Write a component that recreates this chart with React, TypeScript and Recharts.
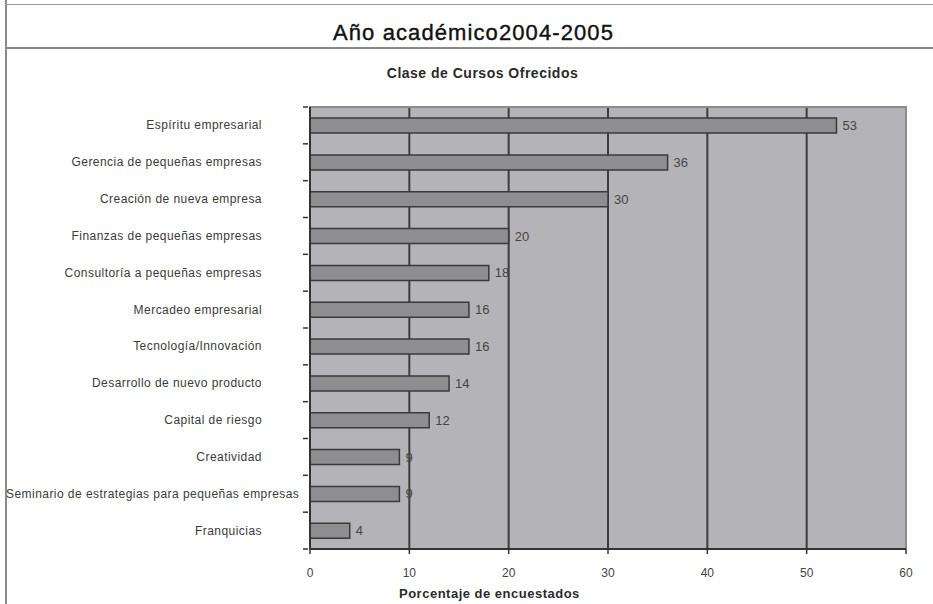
import React from 'react';
import {
  BarChart,
  Bar,
  XAxis,
  YAxis,
  CartesianGrid,
  LabelList,
  ReferenceArea,
  ReferenceLine,
} from 'recharts';

const courses = [
  'Espíritu empresarial',
  'Gerencia de pequeñas empresas',
  'Creación de nueva empresa',
  'Finanzas de pequeñas empresas',
  'Consultoría a pequeñas empresas',
  'Mercadeo empresarial',
  'Tecnología/Innovación',
  'Desarrollo de nuevo producto',
  'Capital de riesgo',
  'Creatividad',
  'Seminario de estrategias para pequeñas empresas',
  'Franquicias',
];

const percents = [53, 36, 30, 20, 18, 16, 16, 14, 12, 9, 9, 4];

const xTicks = [0, 10, 20, 30, 40, 50, 60];

const data = courses.map((name, i) => ({ name, value: percents[i] }));

const FONT = '"Liberation Sans", Arial, sans-serif';
const W = 933;
const H = 604;
const PLOT_TOP = 107;
const PLOT_BOTTOM = 549;
const BAND = (PLOT_BOTTOM - PLOT_TOP) / courses.length;

function CourseTick(props: any) {
  const { x, y, payload, index } = props;
  const label = String(payload.value);
  const long = label.length > 35;
  const top = y - BAND / 2;
  return (
    <g>
      <line x1={x + 1} x2={x + 6} y1={top} y2={top} stroke="#333" strokeWidth={1.5} />
      {index === courses.length - 1 && (
        <line x1={x + 1} x2={x + 6} y1={top + BAND} y2={top + BAND} stroke="#333" strokeWidth={1.5} />
      )}
      <text
        x={long ? 6 : 262}
        y={y}
        dy={4}
        textAnchor={long ? 'start' : 'end'}
        fontFamily={FONT}
        fontSize={12}
        letterSpacing={0.45}
        fill="#3a3a3a"
      >
        {label}
      </text>
    </g>
  );
}

export default function App() {
  return (
    <div
      style={{
        position: 'absolute',
        left: 0,
        top: 0,
        width: W,
        height: H,
        background: '#fff',
        overflow: 'hidden',
        fontFamily: FONT,
      }}
    >
      {/* frame */}
      <div style={{ position: 'absolute', left: 5, top: 0, width: 2, height: H, background: '#8a8a8a' }} />
      <div style={{ position: 'absolute', left: 5, top: 4, width: W - 5, height: 1, background: '#9a9a9a' }} />
      <div style={{ position: 'absolute', left: 5, top: 47, width: W - 5, height: 2, background: '#8a8a8a' }} />

      <div
        style={{
          position: 'absolute',
          left: 0,
          width: W,
          top: 19,
          textAlign: 'center',
          paddingLeft: 7,
          fontSize: 22,
          letterSpacing: 1.1,
          color: '#111',
          WebkitTextStroke: '0.4px #111',
          lineHeight: '28px',
        }}
      >
        Año académico2004-2005
      </div>
      <div
        style={{
          position: 'absolute',
          left: 0,
          width: W,
          top: 64,
          textAlign: 'center',
          paddingLeft: 16,
          fontSize: 14,
          fontWeight: 'bold',
          letterSpacing: 0.5,
          color: '#2a2a2a',
          lineHeight: '18px',
        }}
      >
        Clase de Cursos Ofrecidos
      </div>

      <div style={{ position: 'absolute', left: 0, top: 0 }}>
        <BarChart
          width={W}
          height={H}
          data={data}
          layout="vertical"
          margin={{ top: PLOT_TOP, right: 27, left: 5, bottom: 0 }}
          barCategoryGap="30%"
        >
          <CartesianGrid
            horizontal={false}
            fill="#b4b4b8"
            fillOpacity={1}
            stroke="#3c3c3c"
            strokeWidth={2}
          />
          <ReferenceArea x1={0} x2={60} fill="none" stroke="#8c8c8c" strokeWidth={2} />
          <ReferenceLine x={60} stroke="#8c8c8c" strokeWidth={2} />
          <XAxis
            type="number"
            domain={[0, 60]}
            ticks={xTicks}
            interval={0}
            height={H - PLOT_BOTTOM}
            axisLine={{ stroke: '#333', strokeWidth: 2 }}
            tickLine={{ stroke: '#333', strokeWidth: 1.5 }}
            tickSize={5}
            tickMargin={14}
            tick={{ fontSize: 12, fill: '#444', fontFamily: FONT }}
          />
          <YAxis
            type="category"
            dataKey="name"
            width={305}
            interval={0}
            axisLine={{ stroke: '#333', strokeWidth: 2 }}
            tickLine={false}
            tick={<CourseTick />}
          />
          <Bar
            dataKey="value"
            fill="#8e8e90"
            stroke="#3a3a3a"
            strokeWidth={1.5}
            isAnimationActive={false}
          >
            <LabelList
              dataKey="value"
              position="right"
              offset={6}
              fill="#444"
              fontSize={13}
              fontFamily={FONT}
            />
          </Bar>
        </BarChart>
      </div>

      <div
        style={{
          position: 'absolute',
          left: 399,
          top: 586,
          fontSize: 13,
          fontWeight: 'bold',
          letterSpacing: 0.5,
          color: '#2a2a2a',
          lineHeight: '16px',
          whiteSpace: 'nowrap',
        }}
      >
        Porcentaje de encuestados
      </div>
    </div>
  );
}
